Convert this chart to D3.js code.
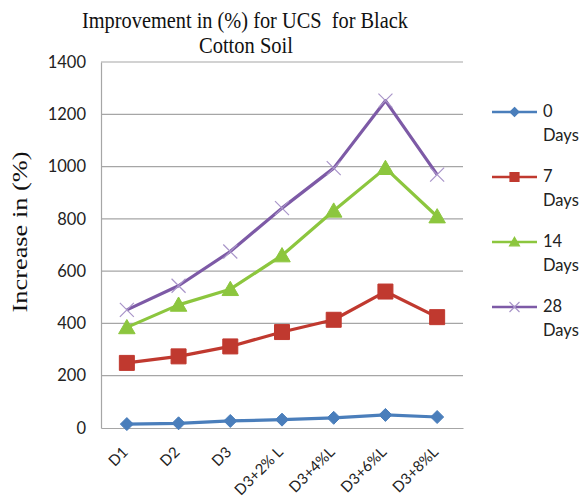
<!DOCTYPE html>
<html>
<head>
<meta charset="utf-8">
<script src="https://cdn.jsdelivr.net/npm/d3@7"></script>
<style>
  html, body { margin: 0; padding: 0; background: #fff; }
  svg { display: block; }
</style>
</head>
<body>
<div id="chart"></div>
<script>
// Mix designs along the x axis
const categories = ["D1", "D2", "D3", "D3+2% L", "D3+4%L", "D3+6%L", "D3+8%L"];

// Improvement in UCS (%) for each curing period
const days0  = [15, 18, 27, 32, 39, 50, 42];
const days7  = [249, 274, 312, 367, 414, 522, 424];
const days14 = [385, 471, 531, 660, 831, 994, 809];
const days28 = [452, 544, 675, 841, 994, 1252, 969];

const seriesNames = ["0 Days", "7 Days", "14 Days", "28 Days"];
const yTicks = [0, 200, 400, 600, 800, 1000, 1200, 1400];

const W = 583, H = 498;
const margin = { left: 101, right: 120, top: 62, bottom: 70 };
const labelFont = "Lato";

const series = [
  { name: seriesNames[0], values: days0,  color: "#4a7ebb", marker: "diamond" },
  { name: seriesNames[1], values: days7,  color: "#c0392f", marker: "square" },
  { name: seriesNames[2], values: days14, color: "#8cc63e", marker: "triangle" },
  { name: seriesNames[3], values: days28, color: "#7d5aa6", marker: "cross" }
];

const svg = d3.select("#chart").append("svg")
  .attr("width", W).attr("height", H);

const x = d3.scaleBand()
  .domain(categories)
  .range([margin.left, 463]);

const y = d3.scaleLinear()
  .domain([0, 1400])
  .range([428, margin.top]);

// Horizontal gridlines
svg.append("g")
  .selectAll("line")
  .data(yTicks.slice(1))
  .join("line")
  .attr("x1", x.range()[0]).attr("x2", x.range()[1])
  .attr("y1", d => y(d)).attr("y2", d => y(d))
  .attr("stroke", "#a6a6a6").attr("stroke-width", 1.2);

// Y axis
const yAxis = svg.append("g")
  .attr("transform", `translate(${x.range()[0]},0)`)
  .call(d3.axisLeft(y).tickValues(yTicks).tickFormat(d3.format("d")).tickSize(0).tickPadding(15));
yAxis.select(".domain").attr("stroke", "#a6a6a6").attr("stroke-width", 1.2);
yAxis.selectAll("text")
  .attr("font-family", labelFont).attr("font-size", 16.5).attr("fill", "#222");

// X axis with slanted category labels
const xAxis = svg.append("g")
  .attr("transform", `translate(0,${y(0)})`)
  .call(d3.axisBottom(x).tickSize(0).tickPadding(0));
xAxis.select(".domain").attr("stroke", "#a6a6a6").attr("stroke-width", 1.2);
xAxis.selectAll("text")
  .attr("font-family", labelFont).attr("font-size", 15).attr("fill", "#222")
  .attr("text-anchor", "end")
  .attr("y", 0)
  .attr("dy", 0)
  .attr("transform", "translate(2,25) rotate(-45)");

// Marker shapes
function markerPath(type, size) {
  const s = size;
  switch (type) {
    case "diamond": return `M0,${-s}L${s},0L0,${s}L${-s},0Z`;
    case "square": return `M${-s},${-s}H${s}V${s}H${-s}Z`;
    case "triangle": return `M0,${-s * 1.05}L${s * 1.1},${s * 0.85}H${-s * 1.1}Z`;
    case "cross": return `M${-s},${-s}L${s},${s}M${-s},${s}L${s},${-s}`;
  }
}
const markerSize = { diamond: 6.5, square: 7.5, triangle: 7.5, cross: 7 };

const line = d3.line()
  .x((d, i) => x(categories[i]) + x.bandwidth() / 2)
  .y(d => y(d));

series.forEach(s => {
  const g = svg.append("g");
  g.append("path")
    .datum(s.values)
    .attr("fill", "none")
    .attr("stroke", s.color)
    .attr("stroke-width", 3.2)
    .attr("stroke-linejoin", "round")
    .attr("d", line);
  g.selectAll("path.mk")
    .data(s.values)
    .join("path")
    .attr("class", "mk")
    .attr("transform", (d, i) => `translate(${x(categories[i]) + x.bandwidth() / 2},${y(d)})`)
    .attr("d", markerPath(s.marker, markerSize[s.marker]))
    .attr("fill", s.marker === "cross" ? "none" : s.color)
    .attr("stroke", s.marker === "cross" ? "#a995c9" : s.color)
    .attr("stroke-width", s.marker === "cross" ? 1.2 : 1);
});

// Legend
const legend = svg.append("g");
series.forEach((s, i) => {
  const yy = 112 + i * 65;
  const parts = s.name.split(" ");
  legend.append("line")
    .attr("x1", 492).attr("x2", 537).attr("y1", yy).attr("y2", yy)
    .attr("stroke", s.color).attr("stroke-width", 2.5);
  legend.append("path")
    .attr("transform", `translate(514.5,${yy})`)
    .attr("d", markerPath(s.marker, s.marker === "cross" ? 5 : 4.5))
    .attr("fill", s.marker === "cross" ? "none" : s.color)
    .attr("stroke", s.marker === "cross" ? "#a995c9" : s.color)
    .attr("stroke-width", 1.2);
  legend.append("text")
    .attr("x", 543).attr("y", yy + 5)
    .attr("font-family", labelFont).attr("font-size", 16.5).attr("fill", "#222")
    .text(parts[0]);
  legend.append("text")
    .attr("x", 543).attr("y", yy + 29)
    .attr("font-family", labelFont).attr("font-size", 16.5).attr("fill", "#222")
    .text(parts[1]);
});

// Title (two lines)
const title = svg.append("text")
  .attr("text-anchor", "middle")
  .attr("font-family", "Liberation Serif").attr("font-size", 23).attr("fill", "#111")
  .attr("xml:space", "preserve");
title.append("tspan").attr("x", 245).attr("y", 28)
  .attr("textLength", 326).attr("lengthAdjust", "spacingAndGlyphs")
  .text("Improvement in (%) for UCS  for Black");
title.append("tspan").attr("x", 246).attr("y", 53)
  .attr("textLength", 94).attr("lengthAdjust", "spacingAndGlyphs")
  .text("Cotton Soil");

// Y axis title
svg.append("text")
  .attr("transform", "translate(27,232) rotate(-90)")
  .attr("text-anchor", "middle")
  .attr("font-family", "Liberation Serif").attr("font-size", 22).attr("fill", "#111")
  .attr("textLength", 161).attr("lengthAdjust", "spacingAndGlyphs")
  .text("Increase in (%)");
</script>
</body>
</html>
